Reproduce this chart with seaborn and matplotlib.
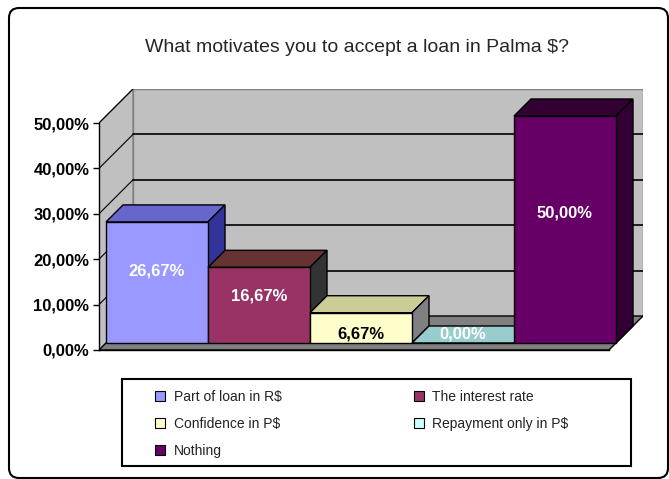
import matplotlib
matplotlib.use('Agg')
import matplotlib.pyplot as plt
from matplotlib.patches import Polygon, Patch, FancyBboxPatch, Rectangle
import seaborn as sns

# data
categories = ['Part of loan in R$', 'The interest rate', 'Confidence in P$',
              'Repayment only in P$', 'Nothing']
shares = [26.67, 16.67, 6.67, 0.00, 50.00]
y_ticks = [0, 10, 20, 30, 40, 50]
title = 'What motivates you to accept a loan in Palma $?'

# excel-ish 3d colours: front / top / side of each column
front_colors = ['#9999ff', '#993366', '#ffffcc', '#ccffff', '#660066']
top_colors = ['#6666cc', '#663333', '#cccc99', '#99cccc', '#330033']
side_colors = ['#333399', '#333333', '#808080', '#669999', '#330033']
label_colors = ['white', 'white', 'black', 'white', 'white']

sns.set_style('white')
plt.rcParams['font.family'] = ['Liberation Sans', 'DejaVu Sans']

W, H = 669, 479
UX, UY = 102, 4.54          # pixels per category / per percent point
WALL = 34                   # depth of walls and floor (px)
BAR_FRONT, BAR_DEPTH = 7, 17
left_px, bottom_px = 99, 350
right_px = left_px + len(categories) * UX + WALL
top_px = bottom_px - y_ticks[-1] * UY - WALL


def off(d):
    # depth in pixels -> shift in data units
    return d / UX, d / UY


fig = plt.figure(figsize=(W / 100, H / 100), dpi=100)
ax = fig.add_axes([left_px / W, 1 - bottom_px / H,
                   (right_px - left_px) / W, (bottom_px - top_px) / H])

sns.barplot(x=categories, y=shares, hue=categories, order=categories,
            hue_order=categories, palette=front_colors, saturation=1,
            width=1, edgecolor='black', linewidth=1, legend=False, ax=ax)

ax.set_xlim(-0.5, -0.5 + (right_px - left_px) / UX)
ax.set_ylim(0, (bottom_px - top_px) / UY)

# walls + floor
x0, x1, ytop = -0.5, len(categories) - 0.5, y_ticks[-1]
wx, wy = off(WALL)
ax.add_patch(Polygon([(x0 + wx, wy), (x1 + wx, wy), (x1 + wx, ytop + wy), (x0 + wx, ytop + wy)],
                     closed=True, fc='#c0c0c0', ec='#808080', lw=1, zorder=0))
ax.add_patch(Polygon([(x0, 0), (x0 + wx, wy), (x0 + wx, ytop + wy), (x0, ytop)],
                     closed=True, fc='#c0c0c0', ec='#808080', lw=1, zorder=0))
ax.add_patch(Polygon([(x0, 0), (x1, 0), (x1 + wx, wy), (x0 + wx, wy)],
                     closed=True, fc='#808080', ec='black', lw=1, zorder=0.5))
for t in y_ticks[1:-1]:
    ax.plot([x0 + wx, x1 + wx], [t + wy, t + wy], color='black', lw=1.2, zorder=1)
for t in y_ticks[1:]:
    ax.plot([x0, x0 + wx], [t, t + wy], color='black', lw=0.8, zorder=1)

# turn flat seaborn bars into boxes
bars = sorted([p for c in ax.containers for p in c], key=lambda p: p.get_x())
fx, fy = off(BAR_FRONT)
dx, dy = off(BAR_DEPTH)
for i, bar in enumerate(bars):
    bar.set_x(bar.get_x() + fx)
    bar.set_y(fy)
    bar.set_zorder(3 + i * 0.1 + 0.05)
    xl, xr = bar.get_x(), bar.get_x() + bar.get_width()
    yt = fy + bar.get_height()
    ax.add_patch(Polygon([(xl, yt), (xr, yt), (xr + dx, yt + dy), (xl + dx, yt + dy)],
                         closed=True, fc=top_colors[i], ec='black', lw=1, zorder=3 + i * 0.1))
    ax.add_patch(Polygon([(xr, fy), (xr + dx, fy + dy), (xr + dx, yt + dy), (xr, yt)],
                         closed=True, fc=side_colors[i], ec='black', lw=1, zorder=3 + i * 0.1))
    v = bar.get_height()
    ly = fy + 0.55 * v + 1.2 if v > 10 else fy + 2
    ax.text(xl + bar.get_width() / 2, ly,
            f'{v:.2f}'.replace('.', ',') + '%', ha='center', va='center',
            color=label_colors[i], fontsize=12, fontweight='bold', zorder=10)

ax.set_xticks([])
ax.set_xlabel('')
ax.set_ylabel('')
ax.set_yticks(y_ticks, labels=[f'{t:.2f}'.replace('.', ',') + '%' for t in y_ticks],
              fontweight='bold')
ax.tick_params(axis='y', left=True, length=4, width=1, pad=3, labelsize=12,
               colors='black', direction='out')
for s in ['top', 'right']:
    ax.spines[s].set_visible(False)
for s in ['left', 'bottom']:
    ax.spines[s].set_color('black')
    ax.spines[s].set_linewidth(1)
ax.spines['left'].set_bounds(0, ytop)
ax.spines['bottom'].set_bounds(x0, x1)
ax.patch.set_visible(False)

fig.text(357 / W, 1 - 47 / H, title, ha='center', va='center', fontsize=14)

# legend (row-major like excel)
order = [0, 2, 4, 1, 3]
handles = [Patch(fc=front_colors[i], ec='black', lw=0.8) for i in order]
fig.legend(handles, [categories[i] for i in order], ncol=2, loc='upper left',
           bbox_to_anchor=(155 / W, 1 - 390 / H), frameon=False, fontsize=10,
           handlelength=0.75, handleheight=0.75, handletextpad=0.6,
           labelspacing=0.92, columnspacing=9.5, borderpad=0, borderaxespad=0,
           labelcolor='#222222')
fig.add_artist(Rectangle((122 / W, 1 - 466 / H), 509 / W, 87 / H,
                         transform=fig.transFigure, fill=False, ec='black', lw=1.5))

# rounded chart border
fig.add_artist(FancyBboxPatch((0.09, 0.01), 6.59, 4.70,
                              boxstyle='round,pad=0,rounding_size=0.1',
                              transform=fig.dpi_scale_trans, fill=False,
                              ec='black', lw=1.5))

fig.savefig('out.png', dpi=100)
